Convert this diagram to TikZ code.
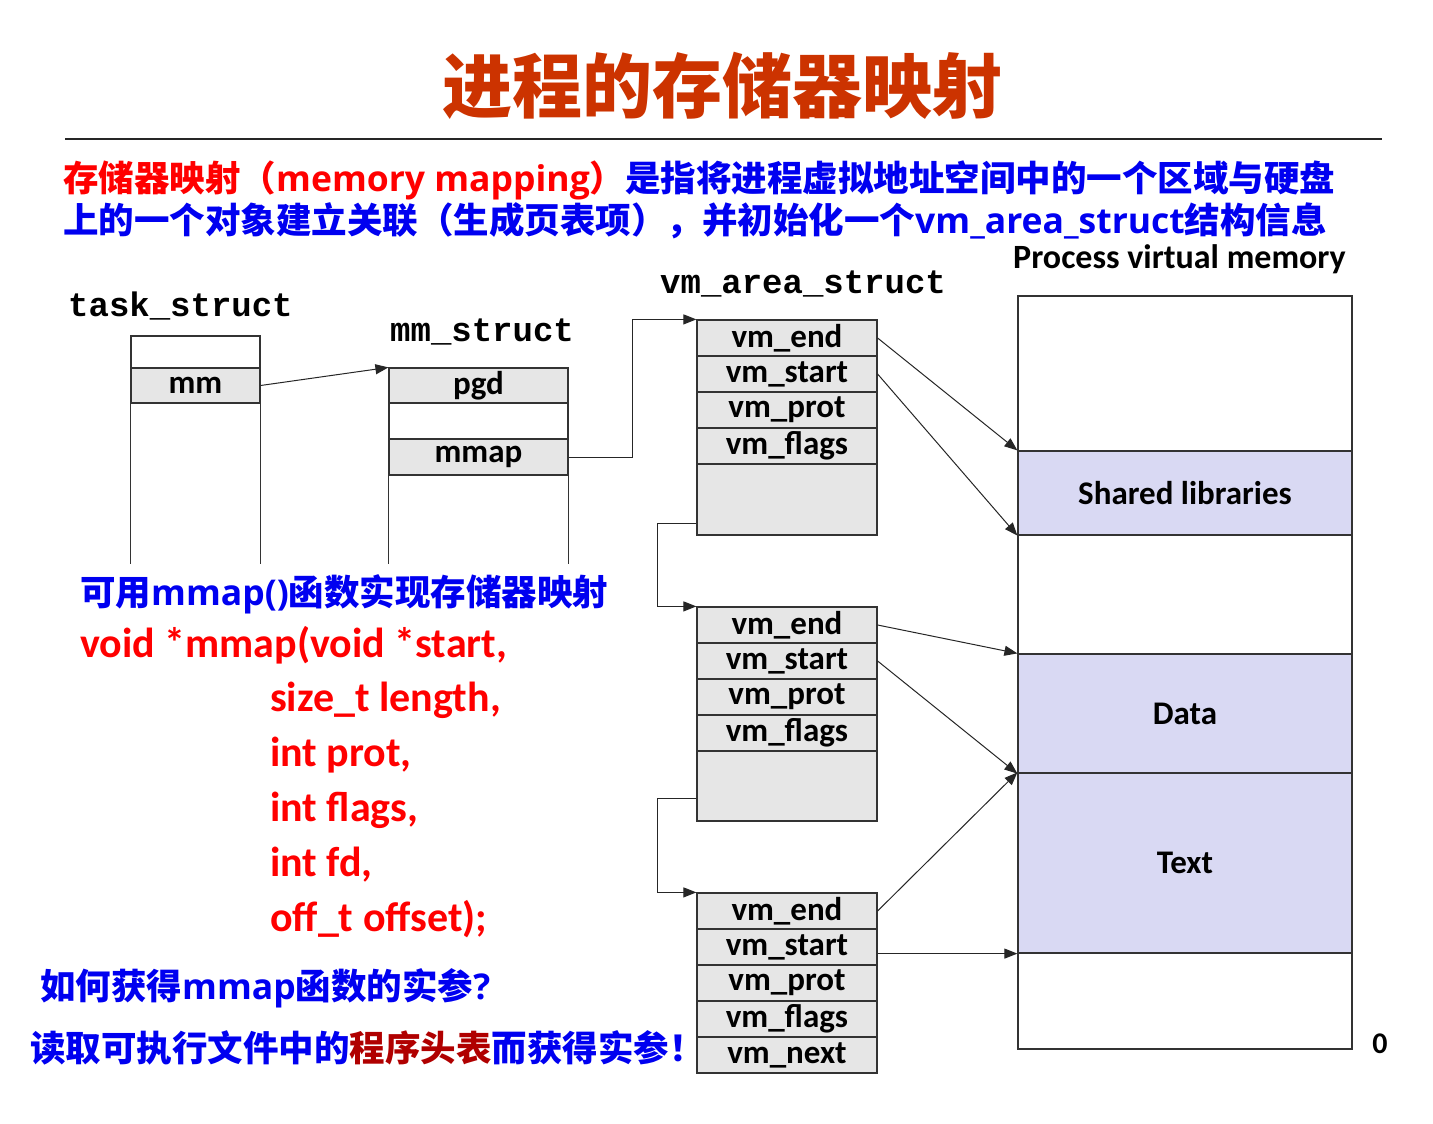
\documentclass[tikz,border=0pt]{standalone}
\usepackage{fontspec}
\setmainfont{Carlito}
\newfontfamily\cjkfont{Noto Sans CJK SC}
\newfontfamily\latinfont{Open Sans}
\newfontfamily\codefont{Liberation Mono}
\usepackage{tikz}
\usepackage{xcolor}
\definecolor{titlered}{RGB}{204, 51, 0}
\definecolor{defred}{RGB}{255, 0, 0}
\definecolor{defblue}{RGB}{0, 0, 240}
\definecolor{hdrred}{RGB}{176, 0, 0}
\definecolor{fieldgray}{RGB}{230, 230, 230}
\definecolor{regionblue}{RGB}{217, 217, 243}
\usetikzlibrary{arrows.meta,positioning}
\newcommand{\zhtxt}[1]{{\cjkfont #1}}
\newcommand{\entxt}[1]{{\latinfont #1}}

\begin{document}
\begin{tikzpicture}[x=1pt, y=-1pt,
    field/.style={draw=black!80, line width=1.2pt, fill=fieldgray, minimum width=180pt, minimum height=36pt, inner sep=0pt, font=\bfseries\fontsize{33}{36}\selectfont},
    blank/.style={field, fill=white},
    region/.style={draw=black!80, line width=1.2pt, fill=white, minimum width=334pt, inner sep=0pt, font=\bfseries\fontsize{33}{36}\selectfont},
    link/.style={line width=1pt, black!85, -{Triangle[length=13pt,width=10pt]}},
    plain/.style={line width=1.2pt, black!80},
    structname/.style={anchor=base west, inner sep=0pt, font=\codefont\bfseries\fontsize{34}{36}\selectfont},
    zhline/.style={anchor=base west, inner sep=0pt, font=\bfseries\fontsize{35.5}{40}\selectfont},
    codeline/.style={anchor=base west, inner sep=0pt, text=defred, font=\bfseries\fontsize{42}{46}\selectfont}]
    \useasboundingbox (0,0) rectangle (1433,1124);

    % Title
    \node[anchor=base, inner sep=0pt, text=titlered, font=\cjkfont\bfseries\fontsize{70}{76}\selectfont] (title) at (722,113) {进程的存储器映射};
    \draw[line width=2pt, black!85] (65,139) -- (1382,139);

    % Definition
    \node[zhline] (def1) at (63,191) {\color{defred}\zhtxt{存储器映射（}\entxt{memory mapping}\zhtxt{）}\color{defblue}\zhtxt{是指将进程虚拟地址空间中的一个区域与硬盘}};
    \node[zhline, text=defblue] (def2) at (63,233) {\zhtxt{上的一个对象建立关联（生成页表项），并初始化一个}\entxt{vm\_area\_struct}\zhtxt{结构信息}};

    % task_struct
    \node[structname] (tasklbl) at (68,316) {task\_struct};
    \node[blank, minimum width=129pt, minimum height=32pt] (ttop) at (195.5,352) {};
    \node[field, minimum width=129pt, minimum height=35pt] (tmm) at (195.5,385.5) {mm};
    \draw[plain] (tmm.south west) -- ++(0,160);
    \draw[plain] (tmm.south east) -- ++(0,160);

    % mm_struct
    \node[structname] (mmlbl) at (390,341) {mm\_struct};
    \node[field, minimum width=179pt, minimum height=35pt] (mpgd) at (478.5,385.5) {pgd};
    \node[blank, minimum width=179pt] (mgap) at (478.5,421) {};
    \node[field, minimum width=179pt] (mmap) at (478.5,457) {mmap};
    \draw[plain] (mmap.south west) -- ++(0,88);
    \draw[plain] (mmap.south east) -- ++(0,88);

    \draw[link] (tmm.east) -- (mpgd.north west);

    % vm_area_struct list
    \node[structname] (vmlbl) at (660,293) {vm\_area\_struct};
    \foreach \f [count=\i] in {vm\_end,vm\_start,vm\_prot,vm\_flags}
        \node[field] (a1-\i) at (787,302+36*\i) {\f};
    \node[field, minimum height=71pt] (a1-tail) at (787,499.5) {};
    \foreach \f [count=\i] in {vm\_end,vm\_start,vm\_prot,vm\_flags}
        \node[field] (a2-\i) at (787,589+36*\i) {\f};
    \node[field, minimum height=70pt] (a2-tail) at (787,786) {};
    \foreach \f [count=\i] in {vm\_end,vm\_start,vm\_prot,vm\_flags,vm\_next}
        \node[field] (a3-\i) at (787,875+36*\i) {\f};

    \draw[link] (mmap.east) -- ++(64,0) |- (a1-1.north west);
    \draw[link] (a1-tail.south west) ++(0,-12) -- ++(-39,0) |- (a2-1.north west);
    \draw[link] (a2-tail.south west) ++(0,-23) -- ++(-39,0) |- (a3-1.north west);

    % Process virtual memory
    \node[anchor=base west, inner sep=0pt, font=\bfseries\fontsize{34}{36}\selectfont] (pvmlbl) at (1013,268) {Process virtual memory};
    \node[region, minimum height=155pt] (vtop) at (1185,373.5) {};
    \node[region, fill=regionblue, minimum height=84pt] (shlib) at (1185,493) {Shared libraries};
    \node[region, minimum height=119pt] (vgap) at (1185,594.5) {};
    \node[region, fill=regionblue, minimum height=119pt] (data) at (1185,713.5) {Data};
    \node[region, fill=regionblue, minimum height=180pt] (text) at (1185,863) {Text};
    \node[region, minimum height=96pt] (vbot) at (1185,1001) {};
    \node[anchor=base, inner sep=0pt, font=\bfseries\fontsize{30}{32}\selectfont] (zero) at (1380,1053) {0};

    \draw[link] (a1-1.east) -- (shlib.north west);
    \draw[link] (a1-2.east) -- (shlib.south west);
    \draw[link] (a2-1.east) -- (data.north west);
    \draw[link] (a2-2.east) -- (data.south west);
    \draw[link] (a3-1.east) -- (text.north west);
    \draw[link] (a3-2.east |- text.south west) -- (text.south west);

    % mmap()
    \node[zhline, text=defblue] (mmapcall) at (80,605) {\zhtxt{可用}\entxt{mmap()}\zhtxt{函数实现存储器映射}};
    \node[codeline] (c0) at (80,657) {void *mmap(void *start,};
    \foreach \s [count=\i] in {{size\_t length,},{int prot,},{int flags,},{int fd,},{off\_t offset);}}
        \node[codeline] (c\i) at (270,657+54.8*\i) {\s};

    \node[zhline, text=defblue] (ask) at (40,999) {\zhtxt{如何获得}\entxt{mmap}\zhtxt{函数的实参}\entxt{?}};
    \node[zhline, text=defblue] (answer) at (30,1061) {\zhtxt{读取可执行文件中的\textcolor{hdrred}{程序头表}而获得实参！}};
\end{tikzpicture}
\end{document}
